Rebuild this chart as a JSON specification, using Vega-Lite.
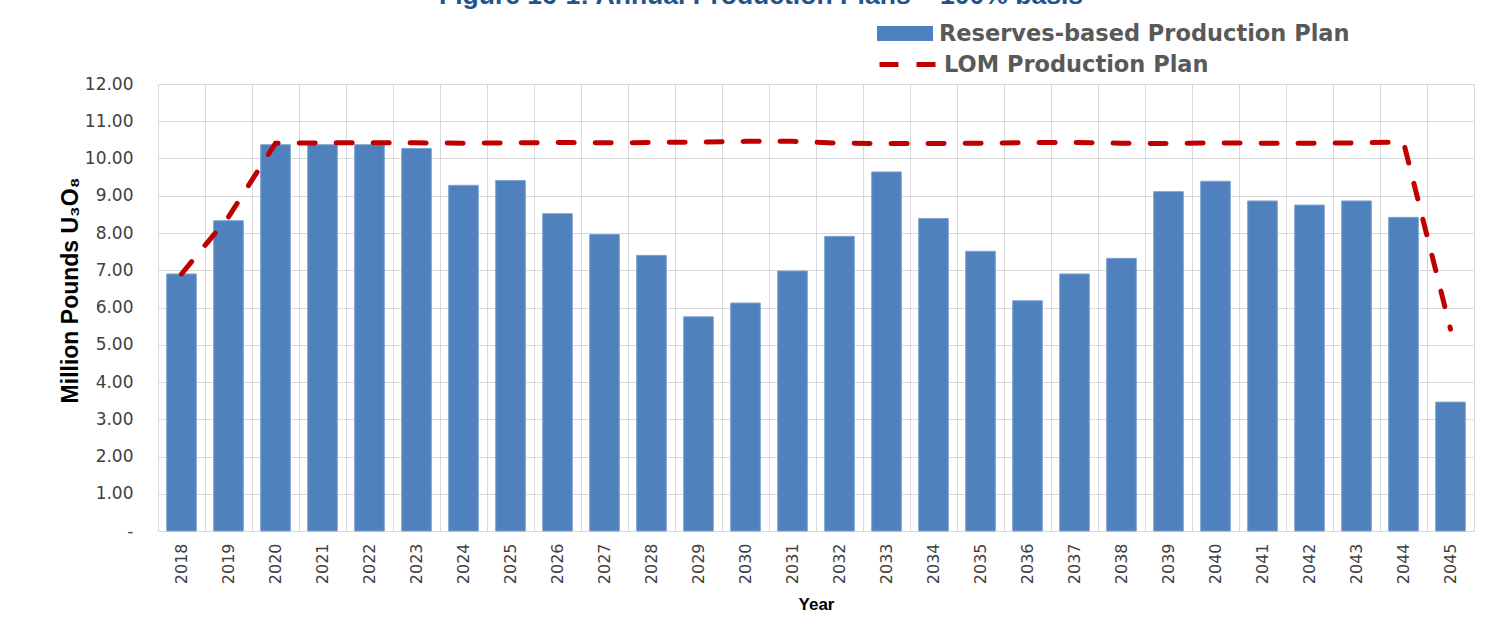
{
  "$schema": "https://vega.github.io/schema/vega-lite/v6.json",
  "width": 1316,
  "height": 447,
  "autosize": {"type": "none"},
  "padding": {"left": 158, "top": 84, "right": 27, "bottom": 90},
  "background": "white",
  "title": {
    "text": "Figure 16-1: Annual Production Plans – 100% basis",
    "font": "Liberation Sans",
    "fontSize": 26.5,
    "fontWeight": "bold",
    "color": "#24528C",
    "anchor": "middle",
    "frame": "group",
    "baseline": "alphabetic",
    "offset": 0,
    "dx": -55,
    "dy": 25
  },
  "data": {
    "values": [
      {"year": "2018", "reserves": 6.90, "lom": 6.90},
      {"year": "2019", "reserves": 8.33, "lom": 8.43},
      {"year": "2020", "reserves": 10.37, "lom": 10.41},
      {"year": "2021", "reserves": 10.37, "lom": 10.42},
      {"year": "2022", "reserves": 10.37, "lom": 10.42},
      {"year": "2023", "reserves": 10.27, "lom": 10.42},
      {"year": "2024", "reserves": 9.28, "lom": 10.41},
      {"year": "2025", "reserves": 9.41, "lom": 10.42},
      {"year": "2026", "reserves": 8.52, "lom": 10.43},
      {"year": "2027", "reserves": 7.96, "lom": 10.42},
      {"year": "2028", "reserves": 7.40, "lom": 10.43},
      {"year": "2029", "reserves": 5.75, "lom": 10.44},
      {"year": "2030", "reserves": 6.12, "lom": 10.46},
      {"year": "2031", "reserves": 6.98, "lom": 10.46},
      {"year": "2032", "reserves": 7.91, "lom": 10.41},
      {"year": "2033", "reserves": 9.64, "lom": 10.40},
      {"year": "2034", "reserves": 8.39, "lom": 10.40},
      {"year": "2035", "reserves": 7.51, "lom": 10.41},
      {"year": "2036", "reserves": 6.18, "lom": 10.43},
      {"year": "2037", "reserves": 6.90, "lom": 10.43},
      {"year": "2038", "reserves": 7.32, "lom": 10.41},
      {"year": "2039", "reserves": 9.11, "lom": 10.40},
      {"year": "2040", "reserves": 9.39, "lom": 10.42},
      {"year": "2041", "reserves": 8.86, "lom": 10.41},
      {"year": "2042", "reserves": 8.75, "lom": 10.41},
      {"year": "2043", "reserves": 8.86, "lom": 10.42},
      {"year": "2044", "reserves": 8.42, "lom": 10.44},
      {"year": "2045", "reserves": 3.46, "lom": 5.42}
    ]
  },
  "transform": [
    {"fold": ["reserves", "lom"], "as": ["series", "value"]}
  ],
  "encoding": {
    "x": {
      "field": "year",
      "type": "ordinal",
      "sort": null,
      "scale": {"paddingInner": 0, "paddingOuter": 0},
      "axis": {
        "title": "Year",
        "bandPosition": 0,
        "labelAngle": 270,
        "grid": true,
        "gridColor": "#D9D9D9",
        "gridWidth": 1,
        "domain": false,
        "ticks": false,
        "labelFont": "DejaVu Sans",
        "labelFontSize": 16,
        "labelColor": "#404040",
        "labelPadding": 12,
        "titleFont": "Liberation Sans",
        "titleFontSize": 17,
        "titleFontWeight": "bold",
        "titleColor": "#000000",
        "titlePadding": 13
      }
    },
    "y": {
      "field": "value",
      "type": "quantitative",
      "title": "Million Pounds U₃O₈",
      "scale": {"domain": [0, 12], "nice": false, "zero": true},
      "axis": {
        "values": [0, 1, 2, 3, 4, 5, 6, 7, 8, 9, 10, 11, 12],
        "labelOverlap": false,
        "labelExpr": "datum.value == 0 ? '-\u00a0\u00a0\u00a0' : format(datum.value, '.2f')",
        "grid": true,
        "gridColor": "#D9D9D9",
        "gridWidth": 1,
        "domain": false,
        "ticks": false,
        "labelFont": "DejaVu Sans",
        "labelFontSize": 17,
        "labelColor": "#404040",
        "labelPadding": 25,
        "titleFont": "Liberation Sans",
        "titleFontSize": 23,
        "titleFontWeight": "bold",
        "titleColor": "#000000",
        "titleX": -76,
        "titleY": 206,
        "titleBaseline": "bottom"
      }
    }
  },
  "layer": [
    {
      "transform": [{"filter": "datum.series == 'reserves'"}],
      "mark": {"type": "bar", "width": {"band": 0.63}, "stroke": "#7DA2CF", "strokeWidth": 1},
      "encoding": {
        "color": {
          "datum": "Reserves-based Production Plan",
          "scale": {"range": ["#4F81BD"]},
          "legend": {
            "title": null,
            "orient": "none",
            "legendX": 719,
            "legendY": -78.5,
            "padding": 0,
            "symbolType": "M-1,-0.27H1V0.27H-1Z",
            "symbolSize": 3136,
            "symbolStrokeWidth": 0,
            "symbolOpacity": 1,
            "labelFont": "DejaVu Sans",
            "labelFontSize": 22.5,
            "labelFontWeight": "bold",
            "labelColor": "#595959",
            "labelOffset": 6,
            "labelLimit": 600
          }
        }
      }
    },
    {
      "transform": [{"filter": "datum.series == 'lom'"}],
      "mark": {"type": "line", "strokeWidth": 5, "strokeCap": "round", "strokeDash": [16, 21]},
      "encoding": {
        "color": {
          "datum": "LOM Production Plan",
          "scale": {"range": ["#C00000"]},
          "legend": {
            "title": null,
            "orient": "none",
            "legendX": 719,
            "legendY": -50,
            "padding": 0,
            "symbolType": "stroke",
            "symbolSize": 3136,
            "symbolStrokeWidth": 5,
            "symbolDash": [19, 18],
            "labelFont": "DejaVu Sans",
            "labelFontSize": 22.5,
            "labelFontWeight": "bold",
            "labelColor": "#595959",
            "labelOffset": 6,
            "labelLimit": 600
          }
        }
      }
    }
  ],
  "resolve": {"scale": {"color": "independent"}, "legend": {"color": "independent"}},
  "config": {"view": {"stroke": "#D9D9D9", "strokeWidth": 1}}
}
